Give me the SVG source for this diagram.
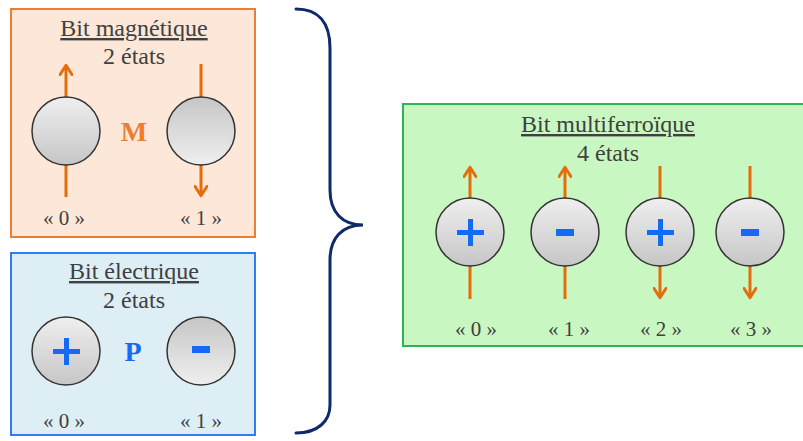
<svg xmlns="http://www.w3.org/2000/svg" width="803" height="441" viewBox="0 0 803 441">
  <defs>
    <linearGradient id="ballDown" x1="0" y1="0" x2="0" y2="1">
      <stop offset="0" stop-color="#efefef"/>
      <stop offset="1" stop-color="#c6c6c6"/>
    </linearGradient>
    <linearGradient id="ballUp" x1="0" y1="0" x2="0" y2="1">
      <stop offset="0" stop-color="#c6c6c6"/>
      <stop offset="1" stop-color="#efefef"/>
    </linearGradient>
    <marker id="head" viewBox="0 0 10 10" refX="7" refY="5" markerWidth="4.8" markerHeight="4.8" orient="auto" markerUnits="strokeWidth">
      <path d="M1 0.8 L7.5 5 L1 9.2" fill="none" stroke="#e46c0a" stroke-width="2" stroke-linecap="round" stroke-linejoin="round"/>
    </marker>
  </defs>
  <style>
    .title { font-family: "Liberation Serif", "DejaVu Serif", serif; font-size: 24px; fill: #404040; text-anchor: middle; text-decoration: underline; }
    .sub { font-family: "Liberation Serif", "DejaVu Serif", serif; font-size: 24px; fill: #404040; text-anchor: middle; }
    .state { font-family: "Liberation Serif", "DejaVu Serif", serif; font-size: 21px; fill: #404040; text-anchor: middle; }
    .sym { font-family: "Liberation Serif", "DejaVu Serif", serif; font-size: 28px; font-weight: bold; text-anchor: middle; }
    .ball { stroke: #333333; stroke-width: 1.5; }
    .spin { stroke: #e46c0a; stroke-width: 3; fill: none; }
    .charge { fill: #1469f5; }
  </style>

  <rect width="803" height="441" fill="#ffffff"/>

  <!-- magnetic bit -->
  <g id="bit-magnetique">
    <rect x="11" y="9" width="244" height="228" fill="#fce7d8" stroke="#ed7d31" stroke-width="2"/>
    <text class="title" x="134" y="36">Bit magnétique</text>
    <text class="sub" x="134" y="64">2 états</text>
    <line class="spin" x1="66" y1="197" x2="66" y2="66" marker-end="url(#head)"/>
    <circle class="ball" cx="66" cy="131" r="34" fill="url(#ballDown)"/>
    <line class="spin" x1="201" y1="64" x2="201" y2="195" marker-end="url(#head)"/>
    <circle class="ball" cx="201" cy="131" r="34" fill="url(#ballUp)"/>
    <text class="sym" x="134" y="141" fill="#ed7d31">M</text>
    <text class="state" x="64" y="225">« 0 »</text>
    <text class="state" x="201" y="225">« 1 »</text>
  </g>

  <!-- electric bit -->
  <g id="bit-electrique">
    <rect x="11" y="253" width="244" height="182" fill="#deeef5" stroke="#2f7cf6" stroke-width="2"/>
    <text class="title" x="134" y="279">Bit électrique</text>
    <text class="sub" x="134" y="308">2 états</text>
    <circle class="ball" cx="66" cy="351" r="34" fill="url(#ballDown)"/>
    <rect class="charge" x="53" y="349" width="27" height="5"/>
    <rect class="charge" x="64" y="338" width="5" height="27"/>
    <circle class="ball" cx="201" cy="351" r="34" fill="url(#ballUp)"/>
    <rect class="charge" x="192" y="346" width="18" height="7"/>
    <text class="sym" x="133" y="361" fill="#1469f5">P</text>
    <text class="state" x="64" y="428">« 0 »</text>
    <text class="state" x="201" y="428">« 1 »</text>
  </g>

  <!-- brace joining the two bits -->
  <g id="connectors">
    <path d="M296 9 C318 9 330 22 330 48 L330 190 C330 212 342 225 363 225 C342 225 330 238 330 260 L330 405 C330 421 318 433 296 433" fill="none" stroke="#0d2a6b" stroke-width="3" stroke-linecap="round"/>
  </g>

  <!-- multiferroic bit -->
  <g id="bit-multiferroique">
    <rect x="403" y="104" width="412" height="242" fill="#c9f7c1" stroke="#2db35a" stroke-width="2"/>
    <text class="title" x="608" y="132">Bit multiferroïque</text>
    <text class="sub" x="608" y="161">4 états</text>

    <line class="spin" x1="470" y1="299" x2="470" y2="168" marker-end="url(#head)"/>
    <circle class="ball" cx="470" cy="232" r="34" fill="url(#ballDown)"/>
    <rect class="charge" x="457" y="230" width="27" height="5"/>
    <rect class="charge" x="468" y="219" width="5" height="27"/>

    <line class="spin" x1="565" y1="299" x2="565" y2="168" marker-end="url(#head)"/>
    <circle class="ball" cx="565" cy="232" r="34" fill="url(#ballDown)"/>
    <rect class="charge" x="556" y="229" width="18" height="7"/>

    <line class="spin" x1="660" y1="166" x2="660" y2="297" marker-end="url(#head)"/>
    <circle class="ball" cx="660" cy="232" r="34" fill="url(#ballDown)"/>
    <rect class="charge" x="647" y="230" width="27" height="5"/>
    <rect class="charge" x="658" y="219" width="5" height="27"/>

    <line class="spin" x1="750" y1="166" x2="750" y2="297" marker-end="url(#head)"/>
    <circle class="ball" cx="750" cy="232" r="34" fill="url(#ballDown)"/>
    <rect class="charge" x="741" y="229" width="18" height="7"/>

    <text class="state" x="476" y="336">« 0 »</text>
    <text class="state" x="569" y="336">« 1 »</text>
    <text class="state" x="661" y="336">« 2 »</text>
    <text class="state" x="751" y="336">« 3 »</text>
  </g>
</svg>
